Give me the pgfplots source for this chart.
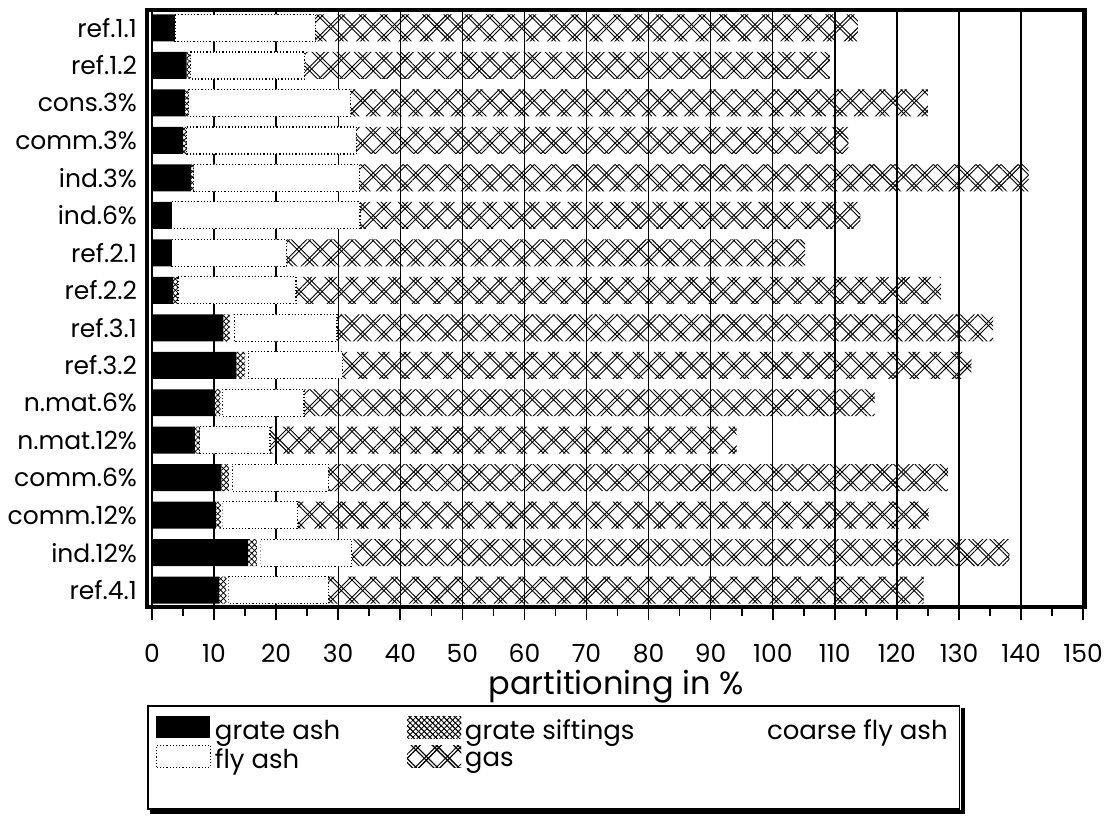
\documentclass[border=0pt]{standalone}
\usepackage{pgfplots}
\pgfplotsset{compat=1.18}
\usepackage{pgfplotstable}
\usepackage{fontspec}
\setmainfont{Poppins}
\usetikzlibrary{patterns.meta}
\pgfplotstableread{
row ga gs cfa fa gas
0 3.7 0.0 0.0 22.6 87.4
1 5.6 0.6 0.0 18.4 84.6
2 5.3 0.6 0.0 26.1 93.0
3 5.0 0.6 0.0 27.3 79.3
4 6.3 0.4 0.0 26.7 107.8
5 3.2 0.0 0.0 30.3 80.6
6 3.2 0.0 0.0 18.5 83.5
7 3.4 0.8 0.0 19.0 103.9
8 11.5 1.0 0.7 16.6 105.7
9 13.6 1.4 0.5 15.2 101.3
10 10.0 1.0 0.3 13.2 91.9
11 6.9 0.8 0.0 11.3 75.2
12 11.2 1.2 0.5 15.5 99.8
13 10.3 0.8 0.3 12.1 101.6
14 15.5 1.4 0.6 14.7 105.9
15 10.8 1.2 0.3 16.1 95.9
}\datatable
\tikzset{
  gaspat/.style={pattern={Lines[angle=45,distance=7.5pt,line width=0.45pt]},
    postaction={pattern={Lines[angle=-45,distance=7.5pt,line width=0.45pt]}},
    postaction={pattern={Lines[angle=45,distance=7.5pt,xshift=2pt,line width=0.45pt]}},
    postaction={pattern={Lines[angle=-45,distance=7.5pt,xshift=2pt,line width=0.45pt]}}},
  gspat/.style={pattern={Lines[angle=45,distance=2pt,line width=0.4pt]},
    postaction={pattern={Lines[angle=-45,distance=2pt,line width=0.4pt]}}},
}
\pgfplotsset{
  xbar legend/.style={},
  galeg/.style={legend image code/.code={\fill[black] (0pt,-3.5pt) rectangle (27pt,7.5pt);}},
  gsleg/.style={legend image code/.code={\path[fill=white, gspat] (0pt,-3.5pt) rectangle (27pt,7.5pt);}},
  cfaleg/.style={legend image code/.code={\path (0pt,-3.5pt) rectangle (27pt,7.5pt);}},
  faleg/.style={legend image code/.code={\draw[fill=white, densely dotted, line width=0.6pt] (0pt,-3.5pt) rectangle (27pt,7.5pt);}},
  gasleg/.style={legend image code/.code={\path[fill=white, gaspat] (0pt,-3.5pt) rectangle (27pt,7.5pt);}},
}
\begin{document}
\begin{tikzpicture}
\useasboundingbox (-73.5pt,-107.5pt) rectangle (480pt,303.5pt);
\begin{axis}[
  scale only axis,
  width=469pt, height=298.5pt,
  xbar stacked,
  bar width=0.72,
  y dir=reverse,
  xmin=-0.8, xmax=150.3,
  ymin=-0.48, ymax=15.45,
  xtick={0,10,...,150},
  minor x tick num=1,
  xtick pos=left,
  tick align=outside,
  major tick length=6.5pt,
  minor tick length=4.5pt,
  ytick={0,...,15},
  yticklabels={ref.1.1,ref.1.2,cons.3\%,comm.3\%,ind.3\%,ind.6\%,ref.2.1,ref.2.2,ref.3.1,ref.3.2,n.mat.6\%,n.mat.12\%,comm.6\%,comm.12\%,ind.12\%,ref.4.1},
  ytick style={draw=none},
  xtick style={line width=0.8pt,black},
  xmajorgrids,
  major grid style={line width=0.7pt,black},
  axis line style={line width=1.6pt},
  /pgf/number format/assume math mode=true,
  xticklabel style={font=\fontsize{12.5}{14}\selectfont, yshift=-8.5pt},
  yticklabel style={font=\fontsize{12.5}{14}\selectfont, xshift=5pt},
  xlabel={partitioning in \%},
  xlabel style={font=\fontsize{16}{18}\selectfont, yshift=3.5pt},
  legend columns=3,
  legend style={name=leg, at={(rel axis cs:0,0)}, anchor=north west, yshift=-49pt,
    draw=black, line width=0.8pt, fill=white,
    font=\fontsize{13}{15}\selectfont, inner xsep=4pt, inner ysep=5pt, row sep=-1pt,
    /tikz/every even column/.append style={column sep=2pt}},
  legend cell align=left,
]
\addplot[fill=black, draw=none, galeg] table[x=ga, y=row] {\datatable};
\addlegendentry{\makebox[92pt][l]{grate ash}}
\addplot[fill=white, draw=none, gspat, gsleg] table[x=gs, y=row] {\datatable};
\addlegendentry{\makebox[118pt][l]{grate siftings}}
\addplot[fill=white, draw=none, cfaleg] table[x=cfa, y=row] {\datatable};
\addlegendentry{coarse fly ash}
\addplot[fill=white, draw=black, densely dotted, line width=0.6pt, faleg] table[x=fa, y=row] {\datatable};
\addlegendentry{\makebox[92pt][l]{fly ash}}
\addplot[fill=white, draw=none, gaspat, gasleg] table[x=gas, y=row] {\datatable};
\addlegendentry{\makebox[118pt][l]{gas}}
\addlegendimage{legend image code/.code={}}
\addlegendentry{}
\addlegendimage{legend image code/.code={}}
\addlegendentry{\rule{0pt}{7pt}}
\end{axis}
\draw[line width=2pt] ([xshift=1.2pt,yshift=-1.5pt]leg.north east) -- ([xshift=1.2pt,yshift=-1.2pt]leg.south east) -- ([xshift=1.5pt,yshift=-1.2pt]leg.south west);
\end{tikzpicture}
\end{document}
